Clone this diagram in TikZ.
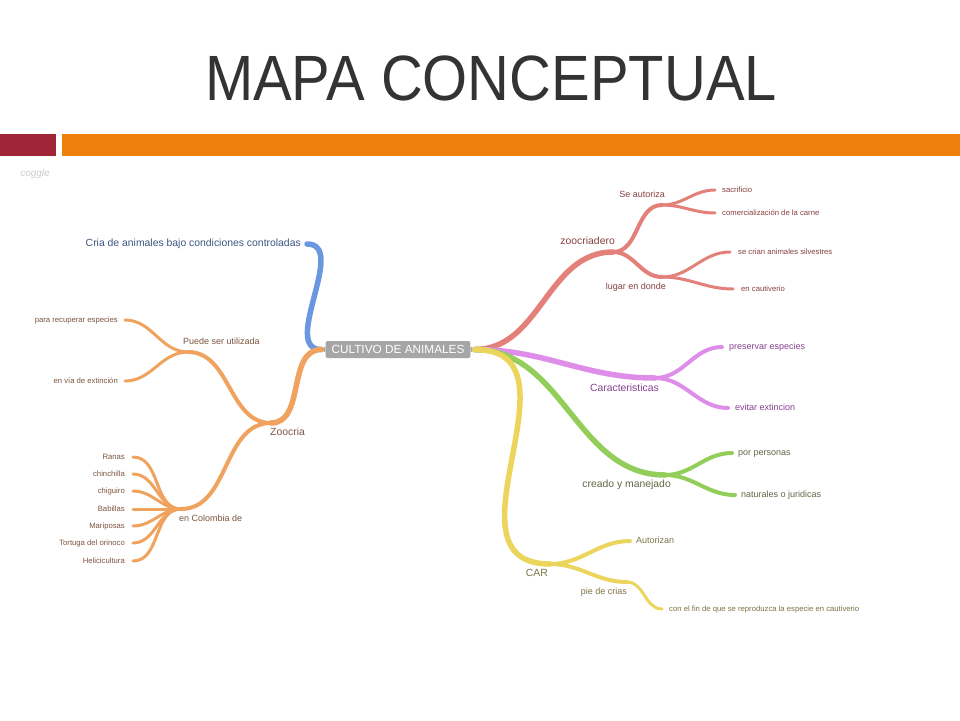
\documentclass[tikz,border=0pt]{standalone}
\usepackage{fontspec}
\setmainfont{Liberation Sans}
\usetikzlibrary{positioning}

\definecolor{titlegray}{RGB}{51,51,51}
\definecolor{barred}{RGB}{160,37,55}
\definecolor{barorange}{RGB}{238,127,11}
\definecolor{boxgray}{RGB}{166,166,166}
\definecolor{blueln}{RGB}{105,152,225}
\definecolor{bluetx}{RGB}{60,85,130}
\definecolor{orln}{RGB}{240,163,95}
\definecolor{ortx}{RGB}{125,85,65}
\definecolor{rdln}{RGB}{228,128,122}
\definecolor{rdtx}{RGB}{135,65,65}
\definecolor{puln}{RGB}{222,142,232}
\definecolor{putx}{RGB}{135,65,145}
\definecolor{grln}{RGB}{148,206,90}
\definecolor{grtx}{RGB}{95,105,70}
\definecolor{yeln}{RGB}{236,213,92}
\definecolor{yetx}{RGB}{125,115,70}

\begin{document}
\begin{tikzpicture}[
    x=1pt, y=-1pt,
    line cap=round,
    toR/.style={out=0, in=180},
    toL/.style={out=180, in=0},
    stem/.style={line width=5.5pt},
    twig/.style={line width=4pt},
    leaf/.style={line width=3pt},
    lblA/.style={inner sep=0pt, text height=.7em, text depth=.2em, font=\fontsize{10.4}{12}\selectfont},
    lblB/.style={inner sep=0pt, text height=.7em, text depth=.2em, font=\fontsize{9}{11}\selectfont},
    lblC/.style={inner sep=0pt, text height=.7em, text depth=.2em, font=\fontsize{7.7}{9}\selectfont},
    hub/.style={fill=boxgray, text=white, rounded corners=1.5pt, inner xsep=6pt, inner ysep=0pt,
                minimum height=17pt, font=\fontsize{11.8}{13}\selectfont}
]

% Page
\useasboundingbox (0,0) rectangle (960,720);
\fill[white] (0,0) rectangle (960,720);

% Heading and bars
\node[font=\fontsize{64}{70}\selectfont, text=titlegray] (title) at (491,78) {\scalebox{0.905}[1]{MAPA CONCEPTUAL}};
\fill[barred] (0,134) rectangle (56,156);
\fill[barorange] (62,134) rectangle (960,156);
\node[font=\itshape\fontsize{10}{12}\selectfont, text=black!20] (coggle) at (35,174) {coggle};

% Central node
\node[hub] (cult) at (398,349.5) {CULTIVO DE ANIMALES};
\coordinate (cL) at ([xshift=-4pt]cult.west);
\coordinate (cR) at ([xshift=4pt]cult.east);
\fill[boxgray] ([yshift=3pt]cult.east) -- (cR) -- ([yshift=-3pt]cult.east) -- cycle;
\fill[boxgray] ([yshift=3pt]cult.west) -- (cL) -- ([yshift=-3pt]cult.west) -- cycle;

% Junctions
\coordinate (criaE) at (307,244);
\coordinate (zoo) at (271,423);
\coordinate (pue) at (188,352);
\coordinate (col) at (181,509);
\coordinate (zc) at (613,252);
\coordinate (sea) at (662,205);
\coordinate (lug) at (662,277);
\coordinate (car) at (655,378);
\coordinate (cym) at (665,475);
\coordinate (carj) at (550,564);
\coordinate (pie) at (627,582);

% Leaf ends - left side
\coordinate (recupE) at (125,320);
\coordinate (viaE) at (125,381);
\coordinate (ranasE) at (133,457);
\coordinate (chinE) at (133,474);
\coordinate (chigE) at (133,491);
\coordinate (babE) at (133,509);
\coordinate (mariE) at (133,526);
\coordinate (tortE) at (133,543);
\coordinate (heliE) at (133,561);

% Leaf ends - right side
\coordinate (sacrE) at (715,190);
\coordinate (comE) at (715,213);
\coordinate (silvE) at (730,252);
\coordinate (cautE) at (733,289);
\coordinate (presE) at (722,347);
\coordinate (evitE) at (728,408);
\coordinate (persE) at (732,453);
\coordinate (natE) at (735,495);
\coordinate (autE) at (630,541);
\coordinate (conE) at (662,609);

% Branches - left
\path[stem, blueln] (cL) edge[toL] (criaE);
\path[stem, orln] (cL) edge[toL] (zoo);
\path[twig, orln]
    (zoo) edge[toL] (pue)
    (zoo) edge[toL] (col);
\path[leaf, orln]
    (pue) edge[toL] (recupE)
    (pue) edge[toL] (viaE)
    (col) edge[toL] (ranasE)
    (col) edge[toL] (chinE)
    (col) edge[toL] (chigE)
    (col) edge[toL] (babE)
    (col) edge[toL] (mariE)
    (col) edge[toL] (tortE)
    (col) edge[toL] (heliE);

% Branches - right
\path[stem, rdln] (cR) edge[toR] (zc);
\path[twig, rdln]
    (zc) edge[toR] (sea)
    (zc) edge[toR] (lug);
\path[leaf, rdln]
    (sea) edge[toR] (sacrE)
    (sea) edge[toR] (comE)
    (lug) edge[toR] (silvE)
    (lug) edge[toR] (cautE);
\path[stem, puln] (cR) edge[toR] (car);
\path[twig, puln]
    (car) edge[toR] (presE)
    (car) edge[toR] (evitE);
\path[stem, grln] (cR) edge[toR] (cym);
\path[twig, grln]
    (cym) edge[toR] (persE)
    (cym) edge[toR] (natE);
\path[stem, yeln] (cR) edge[toR, looseness=1.3] (carj);
\path[twig, yeln]
    (carj) edge[toR] (autE)
    (carj) edge[toR] (pie);
\path[leaf, yeln] (pie) edge[toR] (conE);

% Labels - left
\node[lblA, text=bluetx] (cria) [left=6pt of criaE] {Cria de animales bajo condiciones controladas};
\node[lblA, text=ortx] (zoocria) [below right=5pt and -1pt of zoo] {Zoocria};
\node[lblB, text=ortx] (puede) [above right=5pt and -5pt of pue] {Puede ser utilizada};
\node[lblB, text=ortx] (colombia) [below right=5pt and -2pt of col] {en Colombia de};
\node[lblC, text=ortx] (recup) [left=7pt of recupE] {para recuperar especies};
\node[lblC, text=ortx] (via) [left=7pt of viaE] {en vía de extinción};
\node[lblC, text=ortx] (ranas) [left=8pt of ranasE] {Ranas};
\node[lblC, text=ortx] (chin) [left=8pt of chinE] {chinchilla};
\node[lblC, text=ortx] (chig) [left=8pt of chigE] {chiguiro};
\node[lblC, text=ortx] (bab) [left=8pt of babE] {Babillas};
\node[lblC, text=ortx] (mari) [left=8pt of mariE] {Mariposas};
\node[lblC, text=ortx] (tort) [left=8pt of tortE] {Tortuga del orinoco};
\node[lblC, text=ortx] (heli) [left=8pt of heliE] {Helicicultura};

% Labels - right
\node[lblA, text=rdtx] (zoocriadero) [above left=5pt and -2pt of zc] {zoocriadero};
\node[lblB, text=rdtx] (autoriza) [above left=5pt and -3pt of sea] {Se autoriza};
\node[lblB, text=rdtx] (lugar) [below left=5pt and -4pt of lug] {lugar en donde};
\node[lblC, text=rdtx] (sacr) [right=7pt of sacrE] {sacrificio};
\node[lblC, text=rdtx] (com) [right=7pt of comE] {comercialización de la carne};
\node[lblC, text=rdtx] (silv) [right=8pt of silvE] {se crian animales silvestres};
\node[lblC, text=rdtx] (caut) [right=8pt of cautE] {en cautiverio};
\node[lblA, text=putx] (caract) [below left=6pt and -4pt of car] {Caracteristicas};
\node[lblB, text=putx] (pres) [right=7pt of presE] {preservar especies};
\node[lblB, text=putx] (evit) [right=7pt of evitE] {evitar extincion};
\node[lblA, text=grtx] (creado) [below left=5pt and -6pt of cym] {creado y manejado};
\node[lblB, text=grtx] (pers) [right=6pt of persE] {por personas};
\node[lblB, text=grtx] (nat) [right=6pt of natE] {naturales o juridicas};
\node[lblA, text=yetx] (carlbl) [below left=5pt and 2pt of carj] {CAR};
\node[lblB, text=yetx] (autz) [right=6pt of autE] {Autorizan};
\node[lblB, text=yetx] (pielbl) [below left=5pt and 0pt of pie] {pie de crias};
\node[lblC, text=yetx] (confin) [right=7pt of conE] {con el fin de que se reproduzca la especie en cautiverio};

\end{tikzpicture}
\end{document}
